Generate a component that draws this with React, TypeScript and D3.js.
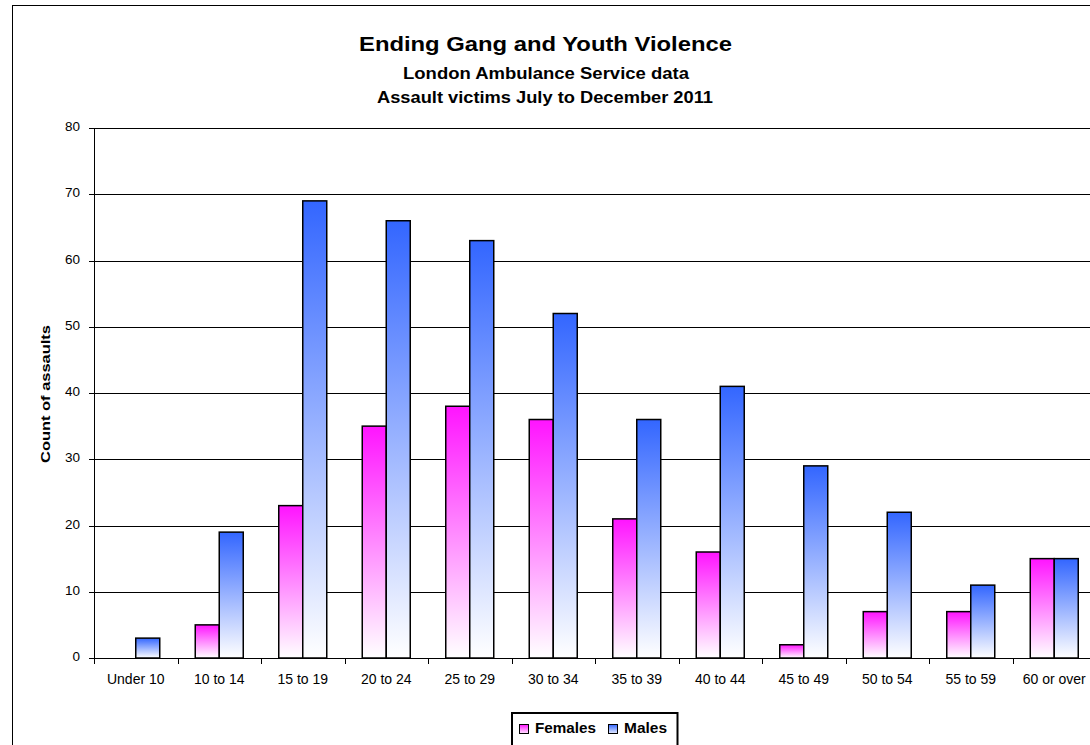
import React from "react";
import * as d3 from "d3";

const categories = ["Under 10", "10 to 14", "15 to 19", "20 to 24", "25 to 29", "30 to 34", "35 to 39", "40 to 44", "45 to 49", "50 to 54", "55 to 59", "60 or over"];
const females = [0, 5, 23, 35, 38, 36, 21, 16, 2, 7, 7, 15];
const males = [3, 19, 69, 66, 63, 52, 36, 41, 29, 22, 11, 15];
const yTicks = [0, 10, 20, 30, 40, 50, 60, 70, 80];
const seriesNames = ["Females", "Males"];
const titleLines = ["Ending Gang and Youth Violence", "London Ambulance Service data", "Assault victims July to December 2011"];
const yAxisTitle = "Count of assaults";

const W = 1090, H = 745;
const left = 94, right = 1096, top = 128, bottom = 658;

export default function App() {
  const x = d3.scaleBand<string>().domain(categories).range([left, right]);
  const y = d3.scaleLinear().domain([0, 80]).range([bottom, top]);
  const barW = 24;
  const font = "Arial, 'Liberation Sans', sans-serif";
  const series = [
    { name: seriesNames[0], values: females, grad: "gF", off: -barW },
    { name: seriesNames[1], values: males, grad: "gM", off: 0 },
  ];
  return (
    <svg width={W} height={H} style={{ position: "absolute", left: 0, top: 0, background: "#fff" }} fontFamily={font}>
      <defs>
        <linearGradient id="gF" x1="0" y1="0" x2="0" y2="1">
          <stop offset="0" stopColor="#ff14ff" />
          <stop offset="1" stopColor="#ffffff" />
        </linearGradient>
        <linearGradient id="gM" x1="0" y1="0" x2="0" y2="1">
          <stop offset="0" stopColor="#3366ff" />
          <stop offset="1" stopColor="#ffffff" />
        </linearGradient>
        <linearGradient id="lF" x1="0" y1="0" x2="0" y2="1">
          <stop offset="0" stopColor="#ff14ff" />
          <stop offset="1" stopColor="#ffe6ff" />
        </linearGradient>
        <linearGradient id="lM" x1="0" y1="0" x2="0" y2="1">
          <stop offset="0" stopColor="#3366ff" />
          <stop offset="1" stopColor="#e6ecff" />
        </linearGradient>
      </defs>
      <rect x={12.5} y={5.5} width={W} height={H} fill="#fff" stroke="#000" strokeWidth={1} />
      <text x={359} y={51} fontSize={20} fontWeight="bold" textLength={373} lengthAdjust="spacingAndGlyphs">{titleLines[0]}</text>
      <text x={403} y={79} fontSize={16} fontWeight="bold" textLength={286} lengthAdjust="spacingAndGlyphs">{titleLines[1]}</text>
      <text x={377} y={103} fontSize={16} fontWeight="bold" textLength={336} lengthAdjust="spacingAndGlyphs">{titleLines[2]}</text>
      {yTicks.map((t) => (
        <g key={t}>
          {t > 0 && <line x1={left} x2={W} y1={Math.round(y(t)) + 0.5} y2={Math.round(y(t)) + 0.5} stroke="#000" strokeWidth={1} />}
          <line x1={left - 5} x2={left} y1={Math.round(y(t)) + 0.5} y2={Math.round(y(t)) + 0.5} stroke="#000" />
          <text x={80} y={y(t) + 3} textAnchor="end" fontSize={13.5}>{t}</text>
        </g>
      ))}
      {series.map((s) =>
        s.values.map((v, i) =>
          v > 0 ? (
            <rect key={s.name + i} x={(x(categories[i]) as number) + x.bandwidth() / 2 + s.off} y={y(v)} width={barW} height={bottom - y(v)} fill={`url(#${s.grad})`} stroke="#000" strokeWidth={1.5} />
          ) : null
        )
      )}
      <line x1={left + 0.5} x2={left + 0.5} y1={top} y2={bottom} stroke="#000" />
      <line x1={left} x2={W} y1={bottom + 0.5} y2={bottom + 0.5} stroke="#000" />
      {categories.map((c) => (
        <g key={c}>
          <line x1={Math.round(x(c) as number) + 0.5} x2={Math.round(x(c) as number) + 0.5} y1={bottom} y2={bottom + 6} stroke="#000" />
          <text x={(x(c) as number) + x.bandwidth() / 2} y={684} textAnchor="middle" fontSize={14}>{c}</text>
        </g>
      ))}
      <text transform={`translate(50,394) rotate(-90)`} x={-69} y={0} fontSize={13} fontWeight="bold" textLength={138} lengthAdjust="spacingAndGlyphs">{yAxisTitle}</text>
      <rect x={512} y={713} width={165.5} height={40} fill="#fff" stroke="#000" strokeWidth={2} />
      <rect x={519.5} y={724.5} width={9} height={9} fill="url(#lF)" stroke="#000" />
      <text x={535} y={733} fontSize={15} fontWeight="bold" textLength={61} lengthAdjust="spacingAndGlyphs">{seriesNames[0]}</text>
      <rect x={608.5} y={724.5} width={9} height={9} fill="url(#lM)" stroke="#000" />
      <text x={624} y={733} fontSize={15} fontWeight="bold" textLength={43} lengthAdjust="spacingAndGlyphs">{seriesNames[1]}</text>
    </svg>
  );
}
